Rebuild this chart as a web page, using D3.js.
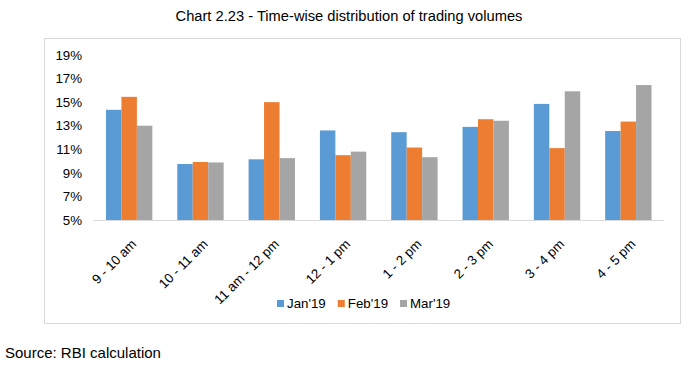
<!DOCTYPE html>
<html><head><meta charset="utf-8">
<script src="https://cdn.jsdelivr.net/npm/d3@7"></script>
<style>body{margin:0;background:#fff;} text{font-family:"Liberation Sans",Arial,sans-serif;fill:#000;}</style>
</head><body><svg id="c" width="688" height="370"></svg>
<script>
const categories = ["9 - 10 am","10 - 11 am","11 am - 12 pm","12 - 1 pm","1 - 2 pm","2 - 3 pm","3 - 4 pm","4 - 5 pm"];
const seriesNames = ["Jan'19","Feb'19","Mar'19"];
const jan19 = [14.35, 9.75, 10.15, 12.6, 12.45, 12.9, 14.85, 12.55];
const feb19 = [15.45, 9.92, 15.0, 10.5, 11.15, 13.55, 11.1, 13.35];
const mar19 = [13.0, 9.88, 10.25, 10.8, 10.33, 13.42, 15.92, 16.45];
const yTicks = [5, 7, 9, 11, 13, 15, 17, 19];
const colors = ["#5B9BD5", "#ED7D31", "#A5A5A5"];

const values = [jan19, feb19, mar19];
const svg = d3.select("#c");
const FONT = "Liberation Sans, Arial, sans-serif";

svg.append("text").attr("x", 349).attr("y", 21).attr("text-anchor", "middle")
  .style("font-size", "14.7px").text("Chart 2.23 - Time-wise distribution of trading volumes");

svg.append("rect").attr("x", 44.5).attr("y", 38.5).attr("width", 636).attr("height", 285)
  .attr("fill", "none").attr("stroke", "#d9d9d9").attr("stroke-width", 1);

const x = d3.scaleBand().domain(categories).range([93.5, 664]).paddingInner(0.35).paddingOuter(0.175);
const xs = d3.scaleBand().domain(seriesNames).range([0, x.bandwidth()]);
const y = d3.scaleLinear().domain([5, 19]).range([220, 55]);

const g = svg.append("g");
categories.forEach((c, i) => {
  seriesNames.forEach((s, j) => {
    g.append("rect").attr("x", x(c) + xs(s)).attr("width", xs.bandwidth())
      .attr("y", y(values[j][i])).attr("height", y(5) - y(values[j][i]))
      .attr("fill", colors[j]);
  });
});

svg.append("line").attr("x1", 93.5).attr("x2", 664).attr("y1", 220.5).attr("y2", 220.5)
  .attr("stroke", "#d9d9d9").attr("stroke-width", 1);

const yAxis = d3.axisLeft(y).tickValues(yTicks).tickFormat(d => d + "%").tickSize(0).tickPadding(0);
const ya = svg.append("g").attr("transform", "translate(82,0)").call(yAxis);
ya.select(".domain").remove();
ya.selectAll("text").style("font-size", "13.3px").style("font-family", FONT).attr("fill", "#000");

const xAxis = d3.axisBottom(x).tickSize(0).tickPadding(0);
const xa = svg.append("g").attr("transform", "translate(0,220)").call(xAxis);
xa.select(".domain").remove();
xa.selectAll("text")
  .style("font-size", "13.3px").style("font-family", FONT).attr("fill", "#000")
  .attr("text-anchor", "end").attr("dy", null).attr("y", null)
  .attr("transform", "translate(8,25) rotate(-45)");

const lg = svg.append("g");
let lx = 277;
seriesNames.forEach((s, j) => {
  lg.append("rect").attr("x", lx).attr("y", 300).attr("width", 7).attr("height", 7).attr("fill", colors[j]);
  const t = lg.append("text").attr("x", lx + 10).attr("y", 307.5).style("font-size", "13.3px").text(s);
  lx += 10 + t.node().getComputedTextLength() + 12;
});

svg.append("text").attr("x", 5).attr("y", 358).style("font-size", "15px").text("Source: RBI calculation");
</script></body></html>
